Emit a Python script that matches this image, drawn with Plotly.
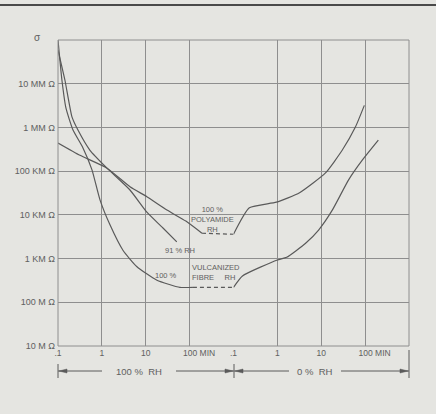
import math
import plotly.graph_objects as go

# ---------------- data (time in minutes, resistance in ohms) ----------------
# 100 % vulcanized fibre
vulc_wet_t = [0.1, 0.123, 0.152, 0.22, 0.371, 0.595, 0.906, 1.53, 3.02, 6.3, 18, 60, 119]
vulc_wet_r = [1e14, 1.2e13, 2.75e12, 8.7e11, 3.4e11, 1.07e11, 2.2e10, 5.9e9, 1.55e9, 6.5e8, 3.2e8, 2.2e8, 2.2e8]
vulc_gap_t = [119, 1000]
vulc_gap_r = [2.2e8, 2.2e8]
vulc_dry_t = [0.1, 0.16, 1.0, 1.63, 4.4, 8.7, 18, 42, 87, 200]
vulc_dry_r = [2.2e8, 4.0e8, 9.3e8, 1.07e9, 2.24e9, 4.5e9, 1.3e10, 6.3e10, 1.8e11, 5.1e11]

# 91 % RH
rh91_t = [0.1, 0.144, 0.208, 0.285, 0.536, 1.31, 4.37, 10.6, 24.7, 51]
rh91_r = [5.9e13, 1.2e13, 1.74e12, 8.7e11, 3.0e11, 1.17e11, 3.7e10, 1.15e10, 5.0e9, 2.4e9]

# 100 % polyamide
poly_wet_t = [0.1, 0.317, 1.31, 4.37, 10.6, 30.4, 82, 191]
poly_wet_r = [4.4e11, 2.3e11, 1.17e11, 4.4e10, 2.6e10, 1.29e10, 7.2e9, 3.8e9]
poly_gap_t = [191, 1000]
poly_gap_r = [3.8e9, 3.6e9]
poly_dry_t = [0.1, 0.23, 0.95, 3.2, 12.5, 30, 60, 96]
poly_dry_r = [3.6e9, 1.45e10, 1.95e10, 3.2e10, 9.1e10, 3.0e11, 1.02e12, 3.2e12]

x_tickvals = [0.1, 1, 10, 100]
x_ticktext = [".1", "1", "10", "\u00a0\u00a0\u00a0\u00a0\u00a0\u00a0\u00a0\u00a0100 MIN"]
y_tickvals = [1e7, 1e8, 1e9, 1e10, 1e11, 1e12, 1e13]
y_ticktext = ["10 M \u03a9", "100 M \u03a9", "1 KM \u03a9", "10 KM \u03a9",
              "100 KM \u03a9", "1 MM \u03a9", "10 MM \u03a9"]

# ---------------- style ----------------
BG = "#e5e5e1"
LINE = "#5a5a5a"
GRID = "#8e8e8e"
TXT = "#606060"
FONT = "Liberation Sans, Arial, sans-serif"

fig = go.Figure()

def curve(t, r, xa, dash="solid"):
    fig.add_trace(go.Scatter(
        x=t, y=r, xaxis=xa, yaxis="y", mode="lines",
        line=dict(color=LINE, width=1.2, dash=dash, shape="spline", smoothing=0.5),
        hoverinfo="skip", showlegend=False))

curve(vulc_wet_t, vulc_wet_r, "x")
curve(vulc_gap_t, vulc_gap_r, "x", dash="4px,3px")
curve(vulc_dry_t, vulc_dry_r, "x2")
curve(rh91_t, rh91_r, "x")
curve(poly_wet_t, poly_wet_r, "x")
curve(poly_gap_t, poly_gap_r, "x", dash="4px,3px")
curve(poly_dry_t, poly_dry_r, "x2")

xaxis_common = dict(
    type="log", range=[-1, 3], tickvals=x_tickvals, ticktext=x_ticktext,
    showgrid=True, gridcolor=GRID, gridwidth=1, zeroline=False,
    showline=False, ticks="", tickfont=dict(family=FONT, size=8.5, color=TXT),
    fixedrange=True,
)

fig.update_layout(
    width=436, height=414, autosize=False,
    margin=dict(l=58, r=27, t=40, b=68),
    paper_bgcolor=BG, plot_bgcolor=BG,
    xaxis=dict(domain=[0, 0.5], anchor="y", **xaxis_common),
    xaxis2=dict(domain=[0.5, 1], anchor="y", **xaxis_common),
    yaxis=dict(type="log", range=[7, 14], tickvals=y_tickvals, ticktext=y_ticktext,
               showgrid=True, gridcolor=GRID, gridwidth=1, zeroline=False,
               showline=False, ticks="", ticklabelstandoff=2,
               tickfont=dict(family=FONT, size=9, color=TXT), fixedrange=True),
    font=dict(family=FONT, color=TXT),
)

# frame + decorations in pixel-derived paper coordinates
def px(xp):
    return (xp - 58) / 351.0

def py(yp):
    return (346 - yp) / 306.0

shapes = []
shapes.append(dict(type="rect", xref="paper", yref="paper", x0=0, x1=1, y0=0, y1=1,
                   line=dict(color=GRID, width=1)))
# top dark border of the scan
shapes.append(dict(type="line", xref="paper", yref="paper", x0=px(0), x1=px(436),
                   y0=py(5), y1=py(5), line=dict(color="#4a4a4a", width=2)))

ay = py(371)
for a, b in [(58, 102), (176, 234), (234, 289), (341, 409)]:
    shapes.append(dict(type="line", xref="paper", yref="paper", x0=px(a), x1=px(b),
                       y0=ay, y1=ay, line=dict(color=LINE, width=1)))
for xb, top in [(58, 364), (234, 364), (409, 350)]:
    shapes.append(dict(type="line", xref="paper", yref="paper", x0=px(xb), x1=px(xb),
                       y0=py(top), y1=py(378), line=dict(color=LINE, width=1)))

def head(tip, direction):
    base = tip - direction * 8
    path = "M {} {} L {} {} L {} {} Z".format(
        px(tip), ay, px(base), py(369), px(base), py(373))
    return dict(type="path", xref="paper", yref="paper", path=path,
                fillcolor=LINE, line=dict(color=LINE, width=0.5))

shapes += [head(59, -1), head(233, 1), head(235, -1), head(408, 1)]
fig.update_layout(shapes=shapes)

ann = []
def note(text, x, y, xref="x", yref="y", size=7.5, xanchor="center", align="center"):
    ann.append(dict(text=text, x=x, y=y, xref=xref, yref=yref, showarrow=False,
                    font=dict(family=FONT, size=size, color=TXT),
                    xanchor=xanchor, yanchor="middle", align=align))

note("100 %<br>POLYAMIDE<br>RH", math.log10(340), 9.90)
note("91 % RH", math.log10(60), math.log10(1.55e9))
note("100 %", math.log10(57), math.log10(4.2e8), xanchor="right")
note("VULCANIZED<br>FIBRE \u00a0\u00a0\u00a0\u00a0RH", math.log10(100), 8.68, xanchor="left", align="left")
note("\u03c3", px(37), py(37), xref="paper", yref="paper", size=10)
note("100 % \u00a0RH", px(139), ay, xref="paper", yref="paper", size=9.5)
note("0 % \u00a0RH", px(315), ay, xref="paper", yref="paper", size=9.5)
fig.update_layout(annotations=ann)

fig.write_html(
    "out.html",
    config={"displayModeBar": False},
    post_script="document.body.style.margin='0';document.body.style.background='%s';" % BG,
)
